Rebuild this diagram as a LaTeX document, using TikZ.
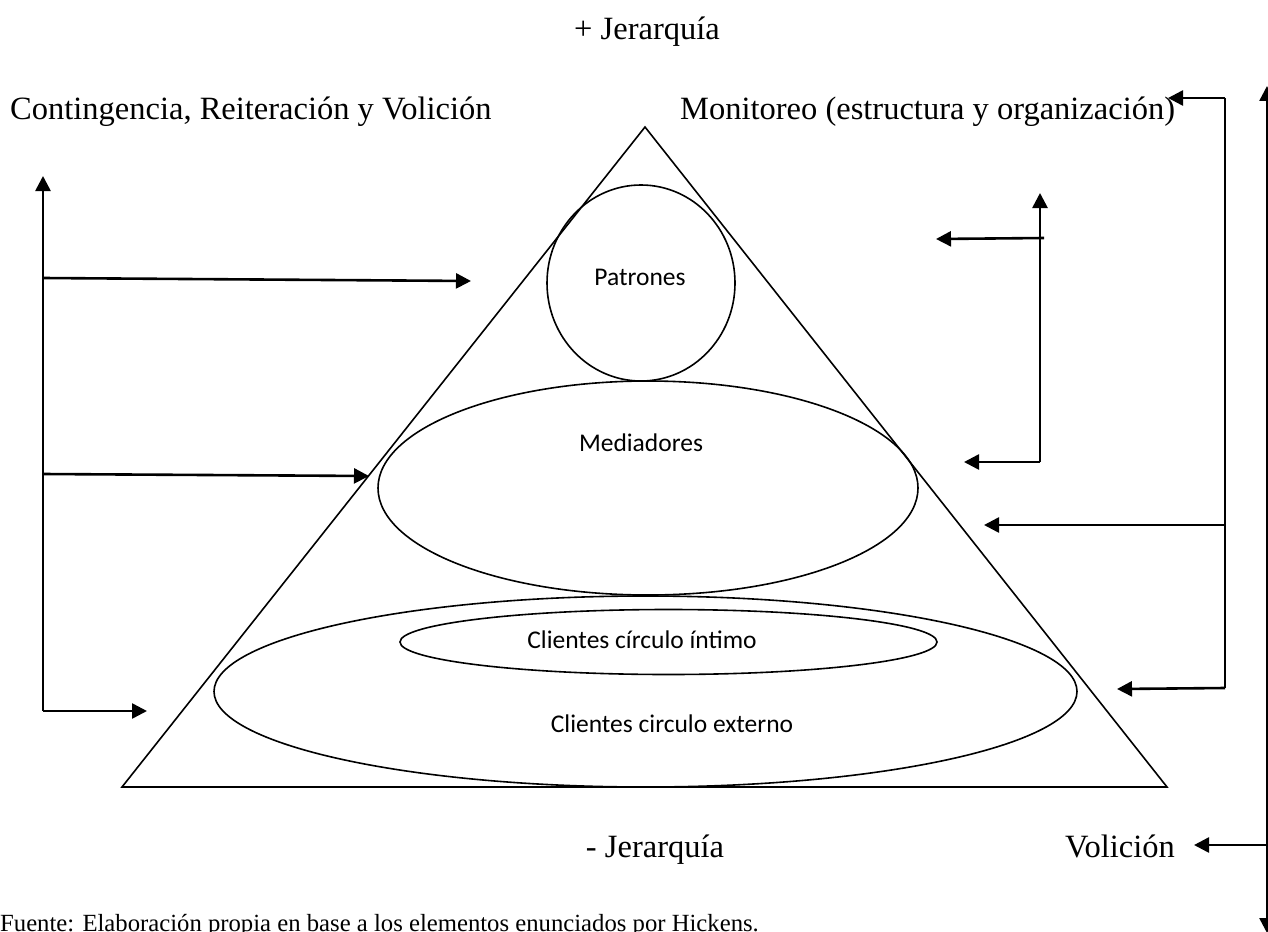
\documentclass[tikz,border=0pt]{standalone}
\usepackage{fontspec}
\setmainfont{Liberation Serif}
\newfontfamily\sansf{Carlito}
\usetikzlibrary{arrows.meta,shapes.geometric}
\tikzset{
  shapeline/.style={line width=1.6pt},
  conn/.style={line width=2.6pt},
  arr/.style={conn,-{Triangle[length=15pt,width=15pt]}},
  arrboth/.style={conn,{Triangle[length=15pt,width=15pt]}-{Triangle[length=15pt,width=15pt]}},
  oval/.style={ellipse,draw,shapeline,inner sep=0pt},
  lab/.style={font=\sansf\fontsize{25.5}{30}\selectfont,inner sep=0pt},
  big/.style={font=\fontsize{32.5}{38}\selectfont,inner sep=0pt},
}
\begin{document}
\begin{tikzpicture}[x=1pt,y=-1pt]
\useasboundingbox (0,0) rectangle (1268,931);
% triangle
\draw[shapeline,line join=miter] (645,127) -- (1167,787) -- (122,787) -- cycle;
% ovals
\node[oval,minimum width=188pt,minimum height=196pt] (pat) at (641,283) {};
\node[oval,minimum width=540pt,minimum height=214pt] (med) at (648,488) {};
\node[oval,minimum width=863pt,minimum height=191pt] (ext) at (645.5,691.5) {};
\node[oval,fill=white,minimum width=537pt,minimum height=65pt] (int) at (668.5,642) {};
\node[lab] (tpat) at (640,277) {Patrones};
\node[lab] (tmed) at (641,443) {Mediadores};
\node[lab] (tint) at (642,640) {Clientes círculo íntimo};
\node[lab] (text) at (672,724) {Clientes circulo externo};
% texts
\node[big,anchor=base] (jtop) at (647,40) {+ Jerarquía};
\node[big,anchor=base west] (cont) at (10,120) {Contingencia, Reiteración y Volición};
\node[big,anchor=base west] (moni) at (680,120) {Monitoreo (estructura y organización)};
\node[big,anchor=base] (jbot) at (655,857) {- Jerarquía};
\node[big,anchor=base west] (vol) at (1065,857) {Volición};
\node[font=\fontsize{24.7}{29}\selectfont,inner sep=0pt,anchor=base west] (fuente) at (0,931) {Fuente: Elaboración propia en base a los elementos enunciados por Hickens.};
% left connectors
\coordinate (L0) at (43,711);
\coordinate (Ltop) at (43,176);
\coordinate (L1) at (43,278);
\coordinate (La) at (471,281);
\coordinate (L2) at (43,474);
\coordinate (Lb) at (369,476);
\coordinate (Lc) at (147,711);
\draw[arr] (L0) -- (Ltop);
\draw[arr] (L1) -- (La);
\draw[arr] (L2) -- (Lb);
\draw[arr] (L0) -- (Lc);
% middle right
\coordinate (M0) at (1040,462);
\coordinate (Mtop) at (1040,193);
\coordinate (M1) at (1044,238);
\coordinate (Ma) at (936,239);
\coordinate (Mb) at (964,462);
\draw[arr] (M0) -- (Mtop);
\draw[arr] (M1) -- (Ma);
\draw[arr] (M0) -- (Mb);
% far right
\coordinate (R0) at (1225,98);
\coordinate (R1) at (1225,688);
\coordinate (R2) at (1225,525);
\coordinate (Ra) at (1168,98);
\coordinate (Rb) at (984,525);
\coordinate (Rc) at (1117,689);
\draw[conn] (R0) -- (R1);
\draw[arr] (R0) -- (Ra);
\draw[arr] (R2) -- (Rb);
\draw[arr] (R1) -- (Rc);
% right edge
\coordinate (E0) at (1267,86);
\coordinate (E1) at (1267,933);
\coordinate (E2) at (1267,845);
\coordinate (Ev) at (1194,845);
\draw[arrboth] (E0) -- (E1);
\draw[arr] (E2) -- (Ev);
\end{tikzpicture}
\end{document}
